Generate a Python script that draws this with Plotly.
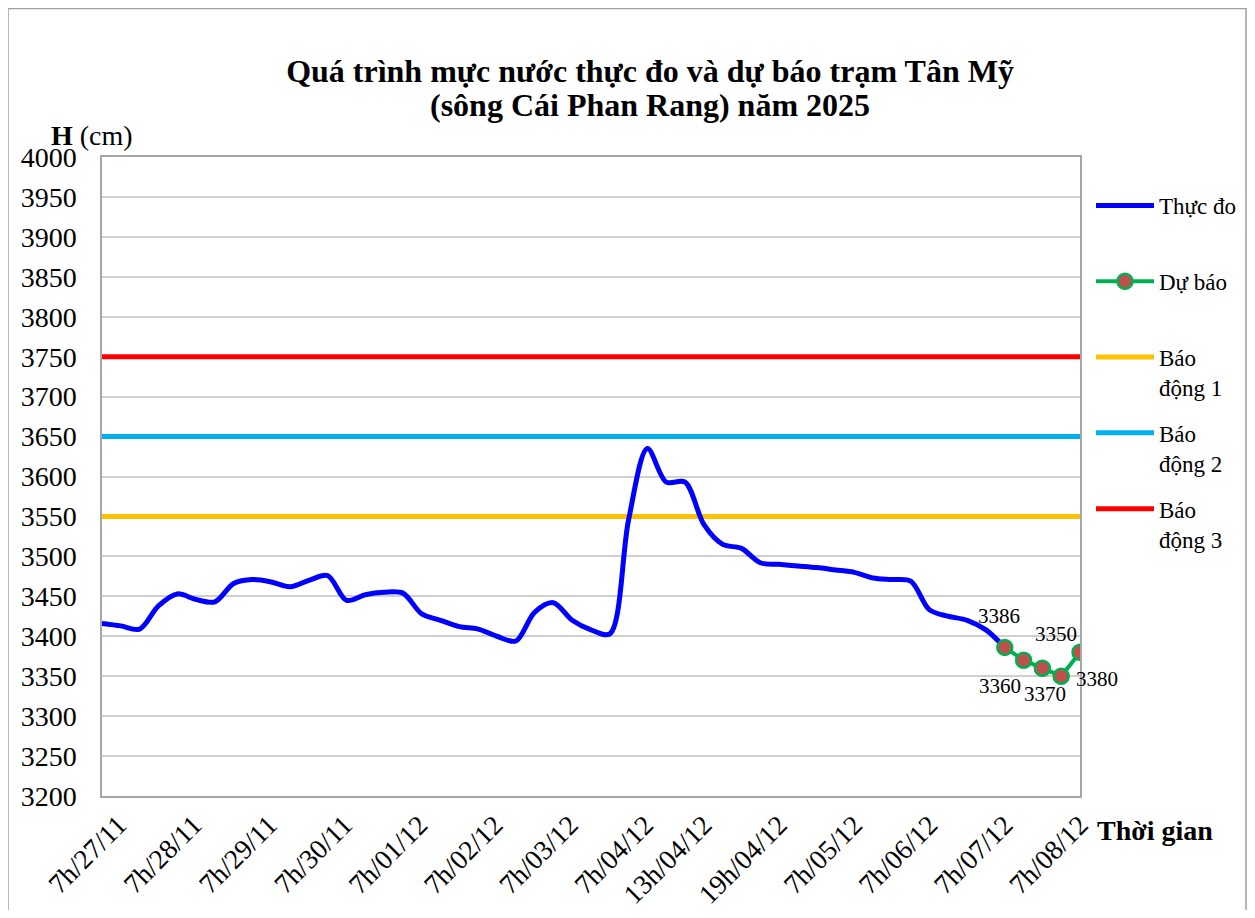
import plotly.graph_objects as go

# ---------------- data ----------------
tick_labels = ["7h/27/11", "7h/28/11", "7h/29/11", "7h/30/11", "7h/01/12", "7h/02/12",
               "7h/03/12", "7h/04/12", "13h/04/12", "19h/04/12", "7h/05/12", "7h/06/12",
               "7h/07/12", "7h/08/12"]

# observed water level, position measured in tick-label steps (4 readings per step)
obs_pos = [0, 0.25, 0.5, 0.75, 1, 1.25, 1.5, 1.75, 2, 2.25, 2.5, 2.75, 3, 3.25, 3.5, 3.75,
           4, 4.25, 4.5, 4.75, 5, 5.25, 5.5, 5.75, 6, 6.25, 6.5, 6.75, 7, 7.25, 7.5, 7.75,
           8, 8.25, 8.5, 8.75, 9, 9.25, 9.5, 9.75, 10, 10.25, 10.5, 10.75, 11, 11.25, 11.5,
           11.75, 12]
obs_val = [3416, 3413, 3409, 3438, 3453, 3446, 3443, 3466, 3471, 3468, 3462, 3470, 3476, 3445,
           3452, 3455, 3454, 3428, 3420, 3412, 3409, 3400, 3394, 3430, 3442, 3420, 3408, 3403,
           3546, 3635, 3593, 3593, 3540, 3515, 3510, 3492, 3490, 3488, 3486, 3483, 3480, 3473,
           3471, 3469, 3433, 3425, 3420, 3408, 3386]

fc_pos = [12, 12.25, 12.5, 12.75, 13]
fc_val = [3386, 3370, 3360, 3350, 3380]

alarm_names = ["Báo<br>động 1", "Báo<br>động 2", "Báo<br>động 3"]
alarm_vals = [3550, 3650, 3750]
alarm_colors = ["#FFC000", "#00B0F0", "#FF0000"]

title_lines = ["Quá trình mực nước thực đo và dự báo trạm Tân Mỹ",
               "(sông Cái Phan Rang) năm 2025"]

# label offsets (pixels) for forecast data labels
label_shift = [(-6, 31), (21, -34), (-42, -18), (-5, 42), (17, -27)]

FONT = "Liberation Serif, Times New Roman, serif"

fig = go.Figure()

x_end = len(tick_labels) - 1
for i, (nm, v, c) in enumerate(zip(alarm_names, alarm_vals, alarm_colors)):
    fig.add_trace(go.Scatter(x=[0, x_end], y=[v, v], mode="lines", name=nm,
                             line=dict(color=c, width=5), legendrank=3 + i,
                             legendgroup=nm, hoverinfo="skip"))

fig.add_trace(go.Scatter(x=obs_pos, y=obs_val, mode="lines", name="Thực đo<br> ",
                         line=dict(color="#0000FF", width=5, shape="spline", smoothing=0.9),
                         legendrank=1, legendgroup="obs"))

fig.add_trace(go.Scatter(x=fc_pos, y=fc_val, mode="lines+markers", name="Dự báo<br> ",
                         line=dict(color="#00B050", width=4),
                         marker=dict(size=15, color="#C0504D",
                                     line=dict(color="#00B050", width=2.5)),
                         legendrank=2, legendgroup="fc"))

for xv, yv, (dx, dy) in zip(fc_pos, fc_val, label_shift):
    fig.add_annotation(x=xv, y=yv, text=str(yv), showarrow=False, xshift=dx, yshift=dy,
                       font=dict(family=FONT, size=21, color="black"))

W, H = 1239, 902
ml, mr, mt, mb = 94, 167, 149, 114
pw, ph = W - ml - mr, H - mt - mb

# second title line
fig.add_annotation(xref="paper", yref="paper", x=(642 - ml) / pw, y=(H - mb - 97) / ph,
                   text="<b>" + title_lines[1] + "</b>", showarrow=False,
                   xanchor="center", yanchor="middle",
                   font=dict(family=FONT, size=32, color="black"))

fig.add_annotation(xref="paper", yref="paper", x=(83.5 - ml) / pw, y=(H - mb - 128) / ph,
                   text="<b>H</b> (cm)", showarrow=False, xanchor="center", yanchor="middle",
                   font=dict(family=FONT, size=28, color="black"))
fig.add_annotation(xref="paper", yref="paper", x=(1087 - ml) / pw, y=(H - mb - 823) / ph,
                   text="<b>Thời gian</b>", showarrow=False, xanchor="left", yanchor="middle",
                   font=dict(family=FONT, size=28, color="black"))

# outer chart border
fig.add_shape(type="rect", xref="paper", yref="paper",
              x0=(0 - ml) / pw, x1=(W - 1 - ml) / pw,
              y0=-(mb + 20) / ph, y1=(H - mb - 0.5) / ph,
              line=dict(color="#A0A0A0", width=1.5), fillcolor="rgba(0,0,0,0)", layer="below")

# tick label placement (labels of the first part sit a bit right of their category)
tick_pos = [i + (0.22 if i < 8 else 0.0) for i in range(len(tick_labels))]

fig.update_layout(
    width=W, height=H,
    margin=dict(l=ml, r=mr, t=mt, b=mb, autoexpand=False),
    paper_bgcolor="white", plot_bgcolor="white",
    font=dict(family=FONT, color="black"),
    title=dict(text="<b>" + title_lines[0] + "</b>",
               x=642 / W, xanchor="center", y=1 - 63 / H, yanchor="middle",
               yref="container", font=dict(family=FONT, size=32, color="black")),
    legend=dict(x=(1083 - ml) / pw, xanchor="left", y=(H - mb - 176) / ph, yanchor="top",
                font=dict(family=FONT, size=23, color="black"), valign="top",
                tracegroupgap=13, bgcolor="rgba(0,0,0,0)", itemwidth=58),
    showlegend=True,
)

fig.update_xaxes(range=[0, x_end], tickvals=tick_pos, ticktext=tick_labels,
                 tickangle=-45, tickfont=dict(family=FONT, size=27.5, color="black"),
                 showgrid=False, zeroline=False, showline=True, mirror=True,
                 linecolor="#A6A6A6", linewidth=1.5, ticks="")
fig.update_yaxes(range=[3200, 4000], dtick=50, tickfont=dict(family=FONT, size=28, color="black"),
                 showgrid=True, gridcolor="#D0D0D0", gridwidth=1.5, zeroline=False,
                 showline=True, mirror=True, linecolor="#A6A6A6", linewidth=1.5,
                 ticks="", ticklabelstandoff=18)

fig.write_html("out.html")
